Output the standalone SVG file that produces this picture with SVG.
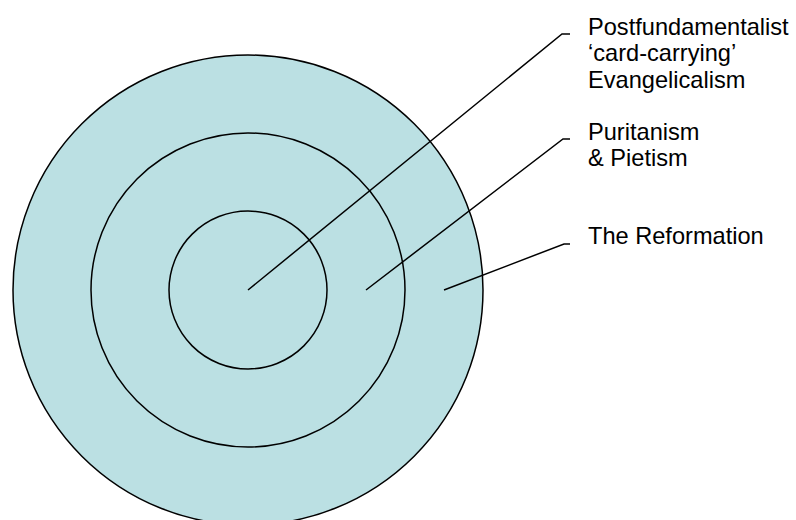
<svg xmlns="http://www.w3.org/2000/svg" width="796" height="520" viewBox="0 0 796 520">
<style>
.ring{fill:#bbe0e3;stroke:#000;stroke-width:1.5}
.lead{fill:none;stroke:#000;stroke-width:1.5}
.lbl{font-family:"Liberation Sans",Arial,sans-serif;font-size:23.6px;fill:#000}
</style>
<rect width="796" height="520" fill="#fff"/>
<g id="outer"><circle class="ring" cx="248" cy="290" r="235"/></g>
<g id="middle"><circle class="ring" cx="248" cy="290" r="157"/></g>
<g id="inner"><circle class="ring" cx="248" cy="290" r="79"/></g>
<g id="connectors">
<polyline class="lead" points="248,290 562,34 570,34"/>
<polyline class="lead" points="366,290 563,139 570,139"/>
<polyline class="lead" points="444,290 564,244 570,244"/>
</g>
<g id="label-postfundamentalist"><text class="lbl" x="588" y="34.5">Postfundamentalist<tspan x="588" dy="26.7">‘card-carrying’</tspan><tspan x="588" dy="26.5">Evangelicalism</tspan></text></g>
<g id="label-puritanism"><text class="lbl" x="588" y="139.5">Puritanism<tspan x="588" dy="26.3">&amp; Pietism</tspan></text></g>
<g id="label-reformation"><text class="lbl" x="588" y="243.5">The Reformation</text></g>
</svg>
